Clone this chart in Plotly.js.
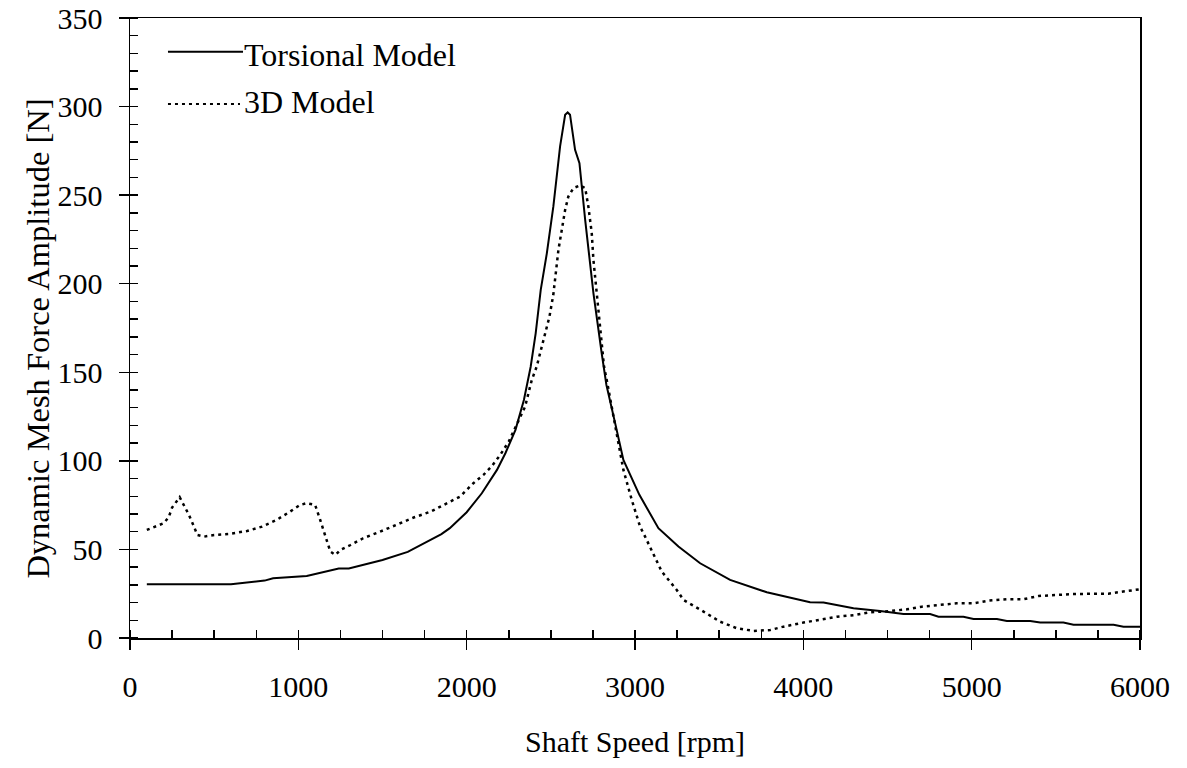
<!DOCTYPE html>
<html>
<head>
<meta charset="utf-8">
<script src="https://cdn.plot.ly/plotly-3.0.1.min.js"></script>
<style>
  html, body { margin: 0; padding: 0; background: #fff; }
  #chart { width: 1187px; height: 768px; }
</style>
</head>
<body>
<div id="chart"></div>
<script>
// Torsional Model
const torsionalSpeed = [100, 600, 800, 850, 1050, 1240, 1300, 1500, 1650, 1750, 1850, 1900, 2000, 2090, 2180, 2230, 2290, 2340, 2380, 2410, 2440, 2476, 2515, 2555, 2585, 2600, 2614, 2644, 2670, 2704, 2753, 2802, 2830, 2882, 2931, 3026, 3139, 3258, 3387, 3565, 3783, 4040, 4120, 4298, 4456, 4595, 4753, 4803, 4951, 5011, 5150, 5209, 5348, 5407, 5545, 5605, 5843, 5902, 6000];
const torsionalForce = [30.3, 30.3, 32.4, 33.7, 35, 39.2, 39.3, 44, 48.6, 53.5, 58.7, 62, 71, 81.7, 94.9, 104.3, 117.5, 134.4, 153, 172, 196.5, 217, 243.6, 277.5, 295.4, 296.7, 295.4, 275.6, 268, 236, 194.7, 160.8, 143, 121.3, 100.5, 80.8, 62, 51.6, 42.2, 32.8, 25.8, 20.2, 20, 16.8, 15.3, 13.5, 13.5, 12, 12, 10.7, 10.7, 9.6, 9.6, 8.7, 8.7, 7.5, 7.5, 6.4, 6.4];

// 3D Model
const model3dSpeed = [100, 170, 200, 230, 250, 295, 320, 350, 380, 400, 440, 500, 585, 695, 785, 870, 950, 1010, 1050, 1100, 1130, 1145, 1190, 1220, 1250, 1310, 1385, 1485, 1595, 1685, 1785, 1860, 1960, 2040, 2100, 2150, 2200, 2250, 2300, 2347, 2367, 2387, 2416, 2446, 2466, 2492, 2515, 2531, 2545, 2565, 2585, 2604, 2634, 2674, 2704, 2723, 2743, 2753, 2769, 2783, 2797, 2816, 2832, 2872, 2911, 2931, 2981, 3030, 3060, 3159, 3248, 3288, 3407, 3506, 3605, 3704, 3803, 3882, 4001, 4100, 4199, 4308, 4397, 4516, 4615, 4704, 4783, 4912, 5011, 5100, 5209, 5308, 5397, 5506, 5595, 5724, 5813, 5882, 5922, 6000];
const model3dForce = [61, 63.4, 64.8, 68.2, 73.6, 79.5, 75.1, 69.5, 62.9, 58.2, 57.2, 58.2, 58.7, 60.4, 62.9, 66.6, 71.3, 75.1, 76.1, 75.1, 66.6, 62, 48.8, 46.9, 49.7, 52.5, 56.3, 60, 64.4, 68, 71.3, 75.1, 79.8, 87.4, 92.1, 97.1, 103.4, 110.9, 121.3, 130.6, 138.2, 145.7, 153.2, 164.5, 171, 181.5, 194, 206, 219, 230.4, 241.7, 249.2, 254, 255.5, 254, 243.6, 228.6, 213.5, 198.4, 183.4, 168.3, 153.2, 145.7, 126, 106, 94.9, 77.9, 62.9, 57.2, 37.5, 27.1, 21.5, 14.9, 9.2, 5.5, 4, 4.5, 6.4, 8.7, 10.2, 12, 13, 14.5, 15.2, 16.2, 17.7, 18.5, 19.6, 19.6, 21.1, 21.9, 21.9, 23.7, 24.3, 24.8, 25, 25, 26, 26.6, 27.5];

const seriesNames = ['Torsional Model', '3D Model'];
const xTitle = 'Shaft Speed [rpm]';
const yTitle = 'Dynamic Mesh Force Amplitude [N]';

const FONT = '"Liberation Serif", "Times New Roman", serif';
const DOTS = '3px,4px';
const f = (s) => ({ family: FONT, size: s, color: '#000' });

const traces = [
  { x: torsionalSpeed, y: torsionalForce, mode: 'lines', name: seriesNames[0],
    line: { color: '#000', width: 2 }, showlegend: false },
  { x: model3dSpeed, y: model3dForce, mode: 'lines', name: seriesNames[1],
    line: { color: '#000', width: 2.5, dash: DOTS }, showlegend: false }
];

const axisCommon = {
  showgrid: false, zeroline: false, showline: true, mirror: true,
  linecolor: '#000', linewidth: 1.5,
  ticks: 'outside', ticklen: 10, tickwidth: 1.5, tickcolor: '#000',
  tickfont: f(30)
};

const layout = {
  width: 1187, height: 768,
  margin: { l: 130, r: 47, t: 18, b: 130 },
  paper_bgcolor: '#fff', plot_bgcolor: '#fff',
  font: f(30),
  xaxis: Object.assign({}, axisCommon, {
    range: [0, 6000], tick0: 0, dtick: 1000, ticklabelstandoff: 11,
    minor: { dtick: 250, ticks: 'inside', ticklen: 8, tickwidth: 1.5, tickcolor: '#000', showgrid: false },
    title: { text: xTitle, font: f(30), standoff: 29 }
  }),
  yaxis: Object.assign({}, axisCommon, {
    range: [0, 350], tick0: 0, dtick: 50, ticklabelstandoff: 10,
    minor: { dtick: 10, ticks: 'inside', ticklen: 8, tickwidth: 1.5, tickcolor: '#000', showgrid: false }
  }),
  shapes: [
    { type: 'line', xref: 'paper', yref: 'paper', x0: 0.0376, x1: 0.1119, y0: 0.9456, y1: 0.9456,
      line: { color: '#000', width: 2 } },
    { type: 'line', xref: 'paper', yref: 'paper', x0: 0.0376, x1: 0.1089, y0: 0.8613, y1: 0.8613,
      line: { color: '#000', width: 2, dash: '3px,4px' } }
  ],
  annotations: [
    { xref: 'paper', yref: 'paper', x: 0.1105, y: 0.9400, xanchor: 'left', yanchor: 'middle',
      text: seriesNames[0], showarrow: false, font: f(32) },
    { xref: 'paper', yref: 'paper', x: 0.1105, y: 0.8650, xanchor: 'left', yanchor: 'middle',
      text: seriesNames[1], showarrow: false, font: f(32) },
    { xref: 'paper', yref: 'paper', x: -0.092, y: 0.483, xanchor: 'center', yanchor: 'middle',
      textangle: -90, text: yTitle, showarrow: false, font: f(32.5) }
  ]
};

Plotly.newPlot('chart', traces, layout, { displayModeBar: false, staticPlot: true });
</script>
</body>
</html>
